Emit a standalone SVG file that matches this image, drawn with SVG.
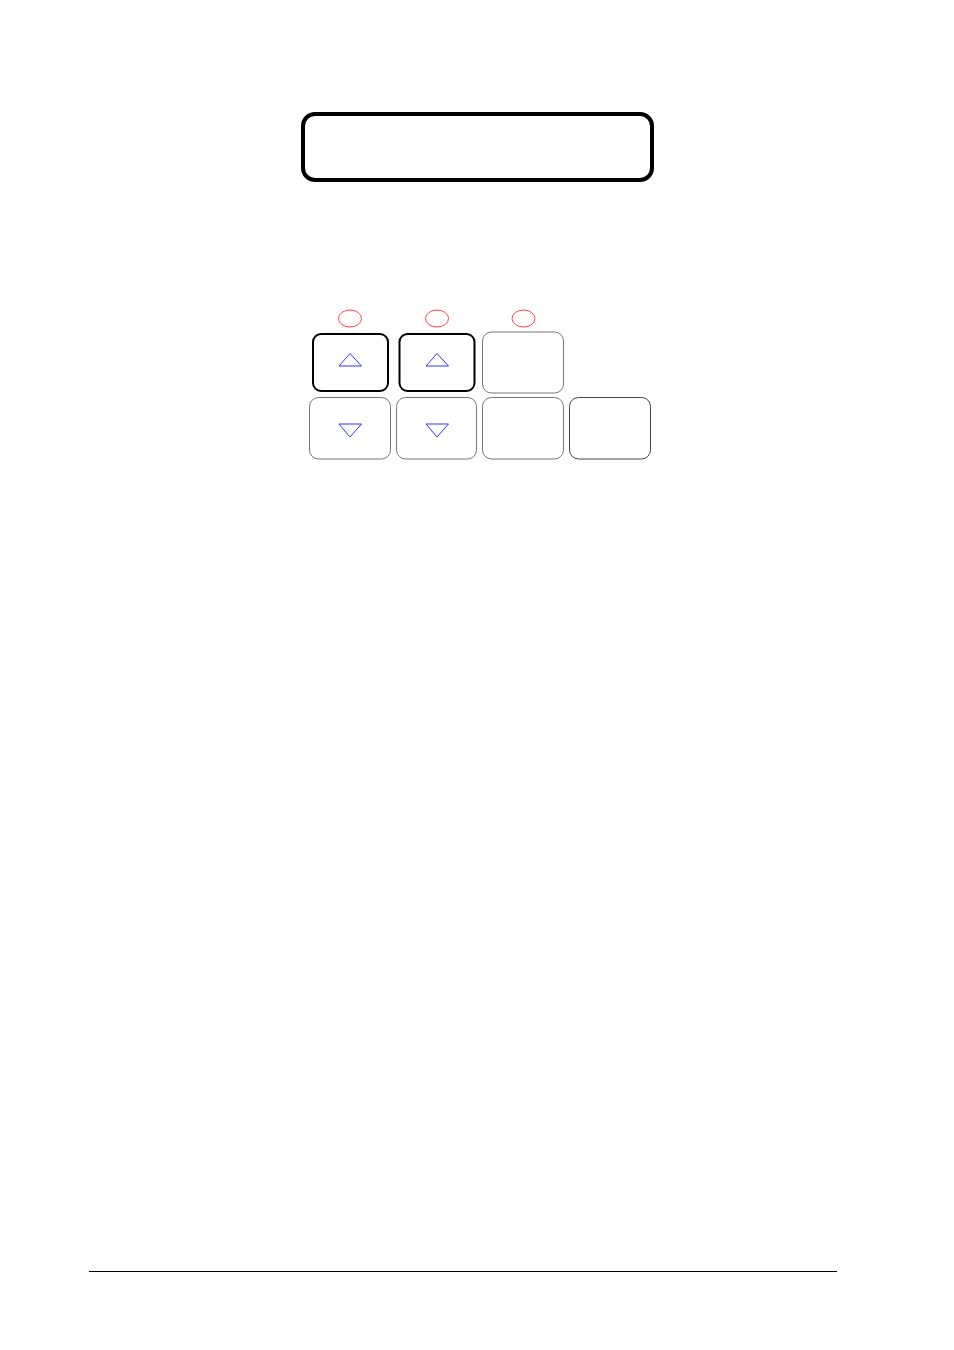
<svg xmlns="http://www.w3.org/2000/svg" width="954" height="1350" viewBox="0 0 954 1350">
<style>
.disp{fill:none;stroke:#000;stroke-width:4}
.btnA{fill:none;stroke:#000;stroke-width:2}
.btnB{fill:none;stroke:#777;stroke-width:1}
.btnC{fill:none;stroke:#444;stroke-width:1}
.led{fill:none;stroke:#f44;stroke-width:1}
.tri{fill:none;stroke:#33f;stroke-width:1}
</style>
<rect width="954" height="1350" fill="#fff"/>
<g id="display"><rect class="disp" x="303" y="114" width="349" height="66" rx="12"/></g>
<g id="led1"><ellipse class="led" cx="350" cy="318.5" rx="11.5" ry="8.5"/></g>
<g id="led2"><ellipse class="led" cx="437" cy="318.5" rx="11.5" ry="8.5"/></g>
<g id="led3"><ellipse class="led" cx="523.5" cy="318.5" rx="11.5" ry="8.5"/></g>
<g id="btn-up1"><rect class="btnA" x="313" y="334" width="75" height="57" rx="8"/><polygon class="tri" points="350,353.5 339,366 361.5,366"/></g>
<g id="btn-up2"><rect class="btnA" x="399.5" y="334" width="75" height="57" rx="8"/><polygon class="tri" points="437,353.5 426,366 448.5,366"/></g>
<g id="btn-3"><rect class="btnB" x="482.5" y="332" width="81" height="61" rx="9"/></g>
<g id="btn-down1"><rect class="btnB" x="309.5" y="397.5" width="81" height="61.5" rx="9"/><polygon class="tri" points="339,424 361.5,424 350,437"/></g>
<g id="btn-down2"><rect class="btnB" x="396.5" y="397.5" width="80" height="61.5" rx="9"/><polygon class="tri" points="426,424 448.5,424 437,437"/></g>
<g id="btn-6"><rect class="btnB" x="482.5" y="397.5" width="81" height="61.5" rx="9"/></g>
<g id="btn-7"><rect class="btnC" x="569.5" y="397.5" width="81" height="61.5" rx="9"/></g>
<g id="connectors"></g>
<line x1="89" y1="1271.5" x2="837" y2="1271.5" stroke="#000" stroke-width="1"/>
</svg>
